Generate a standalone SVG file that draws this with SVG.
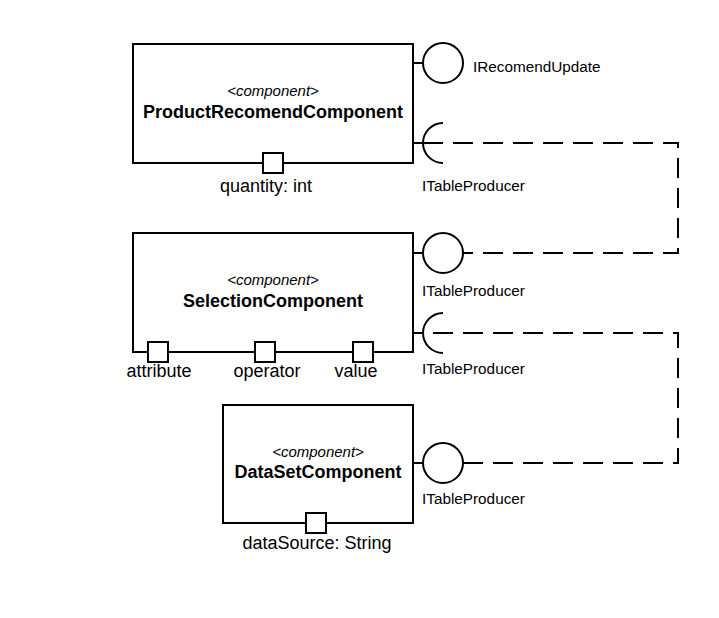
<svg xmlns="http://www.w3.org/2000/svg" width="719" height="618" viewBox="0 0 719 618">
<style>
.box{fill:#fff;stroke:#000;stroke-width:2}
.port{fill:#fff;stroke:#000;stroke-width:2}
.ln{fill:none;stroke:#000;stroke-width:2}
.dash{fill:none;stroke:#000;stroke-width:2;stroke-dasharray:20 10}
text{font-family:"Liberation Sans",Arial,Helvetica,sans-serif;fill:#000}
.st{font-size:15px;font-style:italic;text-anchor:middle}
.nm{font-size:18px;font-weight:bold;text-anchor:middle}
.pl{font-size:18px;text-anchor:middle}
.il{font-size:15.3px}
</style>
<rect width="719" height="618" fill="#fff"/>
<g id="connectors">
<path class="dash" d="M423,143 H678 V253 H463"/>
<path class="dash" d="M463,463 H678 V333 H423"/>
</g>
<g id="ProductRecomendComponent">
<rect class="box" x="133" y="44" width="280" height="119"/>
<text class="st" x="273" y="96">&lt;component&gt;</text>
<text class="nm" x="273" y="118">ProductRecomendComponent</text>
<rect class="port" x="263" y="153" width="20" height="20"/>
<text class="pl" x="266" y="192">quantity: int</text>
</g>
<g id="IRecomendUpdate">
<path class="ln" d="M413,63 H423"/>
<circle class="ln" cx="443" cy="63" r="20"/>
<text class="il" x="473" y="72">IRecomendUpdate</text>
</g>
<g id="ITableProducer-req1">
<path class="ln" d="M413,143 H423"/>
<path class="ln" d="M443,123 A20,20 0 0 0 443,163"/>
<text class="il" x="422" y="191">ITableProducer</text>
</g>
<g id="SelectionComponent">
<rect class="box" x="133" y="233" width="280" height="119"/>
<text class="st" x="273" y="285">&lt;component&gt;</text>
<text class="nm" x="273" y="307">SelectionComponent</text>
<rect class="port" x="148" y="342" width="20" height="20"/>
<rect class="port" x="255" y="342" width="20" height="20"/>
<rect class="port" x="353" y="342" width="20" height="20"/>
<text class="pl" x="159" y="377">attribute</text>
<text class="pl" x="267" y="377">operator</text>
<text class="pl" x="356" y="377">value</text>
</g>
<g id="ITableProducer-prov1">
<path class="ln" d="M413,253 H423"/>
<circle class="ln" cx="443" cy="253" r="20"/>
<text class="il" x="422" y="296">ITableProducer</text>
</g>
<g id="ITableProducer-req2">
<path class="ln" d="M413,333 H423"/>
<path class="ln" d="M443,313 A20,20 0 0 0 443,353"/>
<text class="il" x="422" y="374">ITableProducer</text>
</g>
<g id="DataSetComponent">
<rect class="box" x="223" y="405" width="190" height="118"/>
<text class="st" x="318" y="457">&lt;component&gt;</text>
<text class="nm" x="318" y="478">DataSetComponent</text>
<rect class="port" x="306" y="513" width="20" height="20"/>
<text class="pl" x="317" y="549">dataSource: String</text>
</g>
<g id="ITableProducer-prov2">
<path class="ln" d="M413,463 H423"/>
<circle class="ln" cx="443" cy="463" r="20"/>
<text class="il" x="422" y="504">ITableProducer</text>
</g>
</svg>
